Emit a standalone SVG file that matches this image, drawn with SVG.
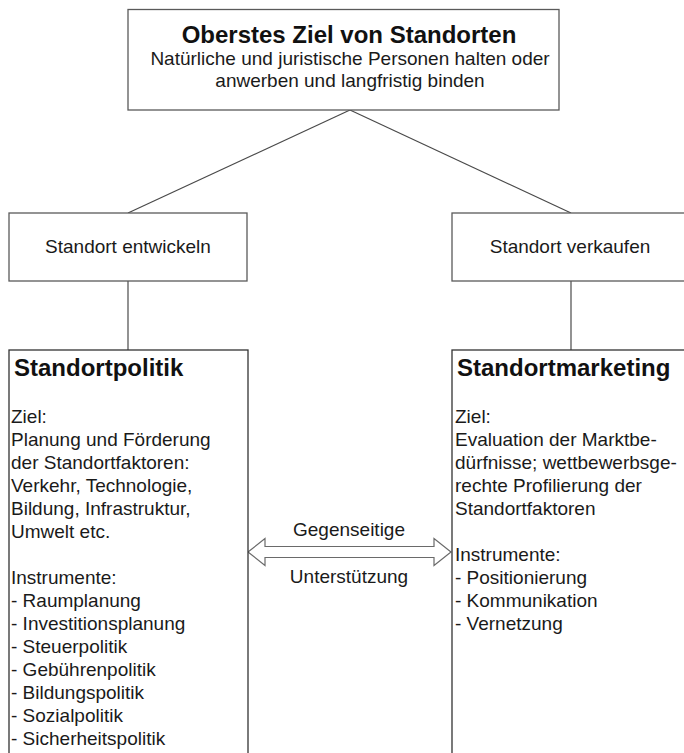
<svg xmlns="http://www.w3.org/2000/svg" width="684" height="753" viewBox="0 0 684 753">
<style>
.box{fill:#fff;stroke:#5a5a5a;stroke-width:1.3}
.box2{fill:#fff;stroke:#333;stroke-width:1.3}
.ln{stroke:#4a4a4a;stroke-width:1.2;fill:none}
.t{font-family:"Liberation Sans",Arial,sans-serif;font-size:19px;fill:#1a1a1a}
.b{font-family:"Liberation Sans",Arial,sans-serif;font-size:24px;font-weight:bold;fill:#111}
.c{text-anchor:middle}
.arrow{fill:#fff;stroke:#6a6a6a;stroke-width:1.2}
</style>
<rect width="684" height="753" fill="#fff"/>
<g id="connectors">
<line class="ln" x1="350" y1="110" x2="128" y2="213"/>
<line class="ln" x1="350" y1="110" x2="571" y2="213"/>
<line class="ln" x1="128" y1="281" x2="128" y2="350"/>
<line class="ln" x1="571" y1="281" x2="571" y2="350"/>
<polygon id="double-arrow" class="arrow" points="248,552 265,538.5 265,546.5 434,546.5 434,538.5 451,552 434,565.5 434,557.5 265,557.5 265,565.5"/>
<text class="t c" x="349" y="536">Gegenseitige</text>
<text class="t c" x="349" y="583">Unterstützung</text>
</g>
<g id="top">
<rect class="box" x="128" y="9.5" width="431" height="100.5"/>
<text class="b c" x="349" y="43">Oberstes Ziel von Standorten</text>
<text class="t c" x="350" y="65">Natürliche und juristische Personen halten oder</text>
<text class="t c" x="350" y="87">anwerben und langfristig binden</text>
</g>
<g id="entwickeln">
<rect class="box" x="9" y="213" width="238" height="68"/>
<text class="t c" x="128" y="253">Standort entwickeln</text>
</g>
<g id="verkaufen">
<rect class="box" x="452" y="213" width="240" height="68"/>
<text class="t c" x="570" y="253">Standort verkaufen</text>
</g>
<g id="standortpolitik">
<rect class="box2" x="9" y="350" width="239" height="420"/>
<text class="b" x="14" y="376">Standortpolitik</text>
<text class="t" x="11">
<tspan x="11" y="423">Ziel:</tspan>
<tspan x="11" y="446">Planung und Förderung</tspan>
<tspan x="11" y="469">der Standortfaktoren:</tspan>
<tspan x="11" y="492">Verkehr, Technologie,</tspan>
<tspan x="11" y="515">Bildung, Infrastruktur,</tspan>
<tspan x="11" y="538">Umwelt etc.</tspan>
<tspan x="11" y="584">Instrumente:</tspan>
<tspan x="11" y="607">- Raumplanung</tspan>
<tspan x="11" y="630">- Investitionsplanung</tspan>
<tspan x="11" y="653">- Steuerpolitik</tspan>
<tspan x="11" y="676">- Gebührenpolitik</tspan>
<tspan x="11" y="699">- Bildungspolitik</tspan>
<tspan x="11" y="722">- Sozialpolitik</tspan>
<tspan x="11" y="745">- Sicherheitspolitik</tspan>
</text>
</g>
<g id="standortmarketing">
<rect class="box2" x="452" y="350" width="240" height="420"/>
<text class="b" x="457" y="376">Standortmarketing</text>
<text class="t" x="455">
<tspan x="455" y="423">Ziel:</tspan>
<tspan x="455" y="446">Evaluation der Marktbe-</tspan>
<tspan x="455" y="469">dürfnisse; wettbewerbsge-</tspan>
<tspan x="455" y="492">rechte Profilierung der</tspan>
<tspan x="455" y="515">Standortfaktoren</tspan>
<tspan x="455" y="561">Instrumente:</tspan>
<tspan x="455" y="584">- Positionierung</tspan>
<tspan x="455" y="607">- Kommunikation</tspan>
<tspan x="455" y="630">- Vernetzung</tspan>
</text>
</g>
</svg>
